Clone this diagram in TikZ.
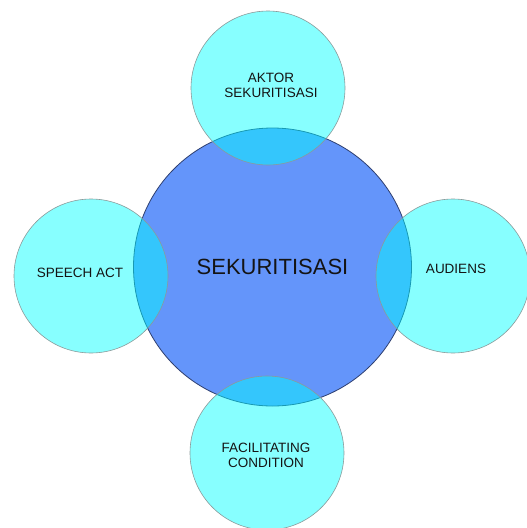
\documentclass[tikz,border=0pt]{standalone}
\usepackage{fontspec}
\setmainfont{Liberation Sans}
\definecolor{hubblue}{HTML}{6495FA}
\definecolor{hubline}{HTML}{2E3F70}
\definecolor{ringline}{HTML}{8A9A9A}
\definecolor{ringcyan}{RGB}{0,255,255}
\definecolor{ink}{HTML}{141414}
\tikzset{
  hub/.style={circle,draw=hubline,line width=0.8pt,fill=hubblue,minimum size=278pt,
    inner sep=0pt,text=ink,font=\fontsize{22}{26}\selectfont},
  ring/.style={circle,draw=ringline,line width=0.6pt,fill=ringcyan,fill opacity=0.47,
    minimum size=154pt,inner sep=0pt},
  ringtext/.style={text=ink,text opacity=1,align=center,inner sep=0pt,
    font=\fontsize{13.5}{15}\selectfont}
}
\begin{document}
\begin{tikzpicture}[x=1pt,y=-1pt]
                \useasboundingbox (0,0) rectangle (527,528);
                %% centre
                \node[hub] (sek) at (272.5,267) {SEKURITISASI};
                %% around
                \node[ring,label={[ringtext,xshift=3pt,yshift=3pt]center:AKTOR\\SEKURITISASI}] (aktor) at (268,88) {};
                \node[ring,label={[ringtext,xshift=-11pt,yshift=3pt]center:SPEECH ACT}] (speech) at (91,276) {};
                \node[ring,label={[ringtext,xshift=3pt,yshift=7pt]center:AUDIENS}] (audiens) at (453,276) {};
                \node[ring,label={[ringtext,xshift=-1pt,yshift=-2pt]center:FACILITATING\\CONDITION}] (facil) at (267,453) {};
            \end{tikzpicture}
\end{document}
